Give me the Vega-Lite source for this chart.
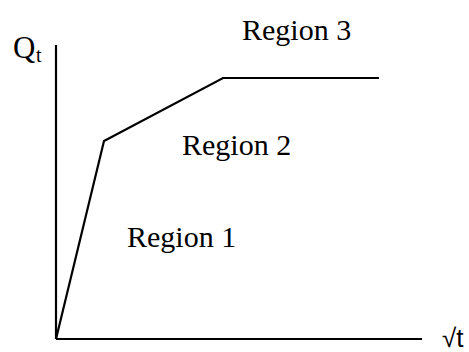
{
  "$schema": "https://vega.github.io/schema/vega-lite/v6.json",
  "width": 469,
  "height": 352,
  "padding": 0,
  "autosize": {"type": "none"},
  "background": "white",
  "config": {"view": {"stroke": null}},
  "datasets": {
    "lines": [
      {"series": "yaxis", "i": 0, "x": 0, "y": 0},
      {"series": "yaxis", "i": 1, "x": 0, "y": 294},
      {"series": "xaxis", "i": 0, "x": 0, "y": 0},
      {"series": "xaxis", "i": 1, "x": 366, "y": 0},
      {"series": "curve", "i": 0, "x": 0, "y": 0},
      {"series": "curve", "i": 1, "x": 48, "y": 198},
      {"series": "curve", "i": 2, "x": 167, "y": 261},
      {"series": "curve", "i": 3, "x": 323, "y": 261}
    ],
    "regions": [
      {"label": "Region 3", "x": 186, "y": 299},
      {"label": "Region 2", "x": 126, "y": 184},
      {"label": "Region 1", "x": 71, "y": 92}
    ],
    "q": [{"label": "Q", "x": -43, "y": 281}],
    "qsub": [{"label": "t", "x": -20, "y": 277}],
    "xlab": [{"label": "√t", "x": 386, "y": -8}]
  },
  "encoding": {
    "x": {"field": "x", "type": "quantitative", "scale": {"domain": [-56, 413], "nice": false, "zero": false}, "axis": null},
    "y": {"field": "y", "type": "quantitative", "scale": {"domain": [-13, 339], "nice": false, "zero": false}, "axis": null}
  },
  "layer": [
    {
      "data": {"name": "lines"},
      "mark": {"type": "line", "color": "black", "strokeWidth": 2.2},
      "encoding": {
        "detail": {"field": "series"},
        "order": {"field": "i", "type": "quantitative"}
      }
    },
    {
      "data": {"name": "regions"},
      "mark": {"type": "text", "font": "Liberation Serif", "fontSize": 30, "align": "left", "baseline": "alphabetic", "color": "black"},
      "encoding": {"text": {"field": "label"}}
    },
    {
      "data": {"name": "q"},
      "mark": {"type": "text", "font": "Liberation Serif", "fontSize": 31, "align": "left", "baseline": "alphabetic", "color": "black"},
      "encoding": {"text": {"field": "label"}}
    },
    {
      "data": {"name": "qsub"},
      "mark": {"type": "text", "font": "Liberation Serif", "fontSize": 20, "align": "left", "baseline": "alphabetic", "color": "black"},
      "encoding": {"text": {"field": "label"}}
    },
    {
      "data": {"name": "xlab"},
      "mark": {"type": "text", "font": "Liberation Sans", "fontSize": 26, "align": "left", "baseline": "alphabetic", "color": "black"},
      "encoding": {"text": {"field": "label"}}
    }
  ]
}
